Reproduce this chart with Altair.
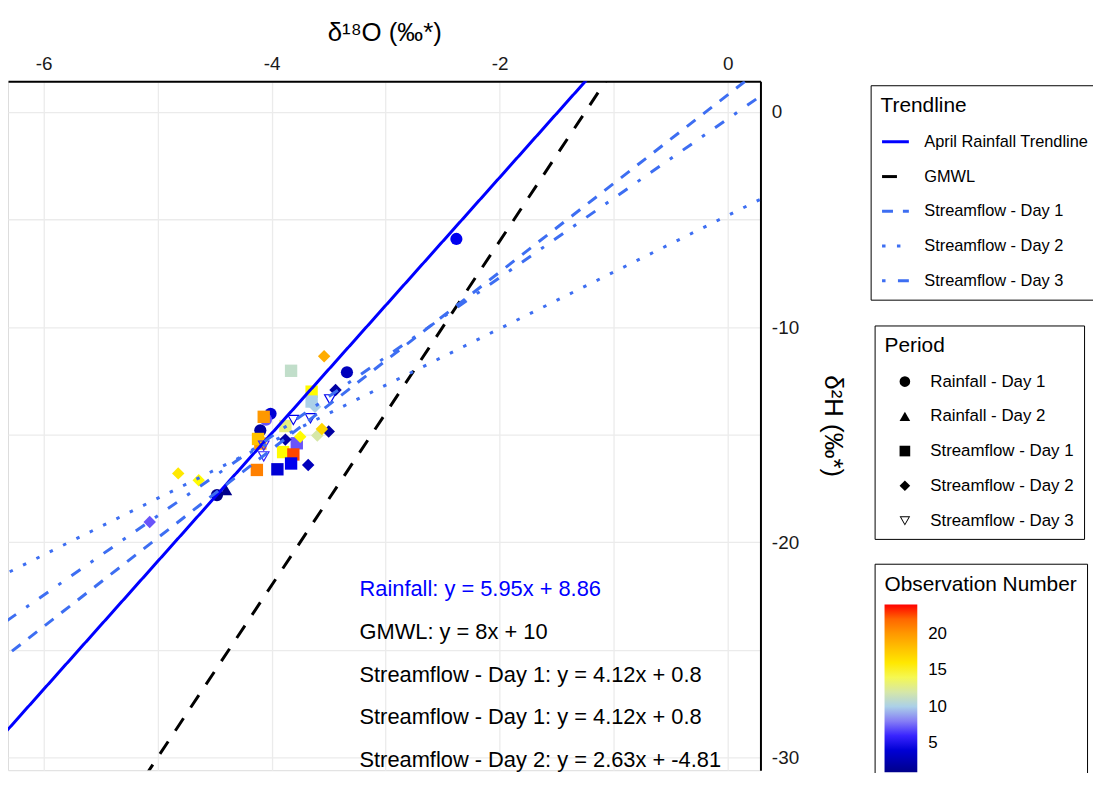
import altair as alt
import pandas as pd

# ---------------- data ----------------
trend_names = ["April Rainfall Trendline", "GMWL", "Streamflow - Day 1",
               "Streamflow - Day 2", "Streamflow - Day 3"]
trend_slopes = [5.95, 8.0, 4.12, 2.63, 3.69]
trend_intercepts = [8.86, 10.0, 0.8, -4.81, -0.32]
trend_colors = ["#0000FF", "#000000", "#3D6EF2", "#3D6EF2", "#3D6EF2"]
trend_dashes = [[1, 0], [15, 13], [11, 10], [3.5, 11.5], [3.5, 12.5, 11, 12.5]]
x_ends = [-7.0, 1.0]

periods = ["Rainfall - Day 1", "Rainfall - Day 2", "Streamflow - Day 1",
           "Streamflow - Day 2", "Streamflow - Day 3"]
open_tri = "M-1,-0.8L1,-0.8L0,0.95Z M-0.69,-0.62L0,0.587L0.69,-0.62Z"
period_shapes = ["circle", "triangle-up", "square", "diamond", open_tri]
period_sizes = [150, 160, 140, 120, 260]

obs_x = [-2.38, -3.34, -4.01, -4.05, -4.10, -4.48,
         -4.40,
         -3.83, -3.65, -3.65, -4.07, -4.10, -3.78, -3.90, -3.81, -3.83, -3.95, -4.13, -3.88, -4.12,
         -3.54, -3.44, -3.88, -3.75, -3.60, -3.50, -3.56, -3.68, -4.82, -4.64, -5.07, -3.62,
         -3.49, -3.66, -3.81, -4.07, -4.07]
obs_y = [-5.90, -12.10, -14.03, -14.30, -14.80, -17.81,
         -17.57,
         -12.03, -13.00, -13.46, -14.17, -15.41, -15.40, -15.81, -15.92, -16.34, -16.61, -16.64, -14.60, -15.20,
         -11.35, -12.92, -15.23, -15.10, -15.04, -14.85, -14.74, -16.41, -16.80, -17.12, -19.06, -13.70,
         -13.35, -14.23, -14.31, -15.50, -16.00]
obs_period = (["Rainfall - Day 1"] * 6 + ["Rainfall - Day 2"] * 1 +
              ["Streamflow - Day 1"] * 13 + ["Streamflow - Day 2"] * 12 +
              ["Streamflow - Day 3"] * 5)
obs_number = [5, 3, 4, 7, 2, 1,
              1,
              11, 15, 10, 20, 20, 7, 15, 23, 5, 4, 21, 13, 18,
              19, 2, 2, 15, 12, 2, 17, 3, 16, 15, 7, 10,
              5, 5, 5, 6, 6]

eq_text = ["Rainfall: y = 5.95x + 8.86", "GMWL: y = 8x + 10",
           "Streamflow - Day 1: y = 4.12x + 0.8", "Streamflow - Day 1: y = 4.12x + 0.8",
           "Streamflow - Day 2: y = 2.63x + -4.81"]
eq_y = [-22.2, -24.18, -26.17, -28.15, -30.14]
eq_x = -3.23

color_stops = [1, 5.6, 10.2, 14.8, 19.4, 24]
color_range = ["#00008B", "#0000FF", "#ADD8E6", "#FFFF00", "#FFA500", "#FF0000"]

# ---------------- frames ----------------
line_rows = []
for n, m, b in zip(trend_names, trend_slopes, trend_intercepts):
    for xe in x_ends:
        line_rows.append({"Trendline": n, "x": xe, "m": m, "b": b})
lines_df = pd.DataFrame(line_rows)

pts_df = pd.DataFrame({"x": obs_x, "y": obs_y, "Period": obs_period,
                       "PeriodSz": obs_period, "Obs": obs_number})
eq_df = pd.DataFrame({"label": eq_text, "y": eq_y, "x": [eq_x] * len(eq_text),
                      "blue": [True, False, False, False, False]})

FONT = "Liberation Sans"

x_enc = alt.X("x:Q", scale=alt.Scale(domain=[-6.313, 0.287], nice=False, zero=False),
              axis=alt.Axis(orient="top", title="δ¹⁸O (‰*)",
                            values=[-6, -5, -4, -3, -2, -1, 0],
                            labelExpr="datum.value % 2 == 0 ? '' + datum.value : ''",
                            ticks=False, domainColor="black", domainWidth=2,
                            gridColor="#EBEBEB", gridWidth=1.3, labelFlush=False,
                            labelFontSize=19, titleFontSize=26, labelPadding=8,
                            titlePadding=9, labelColor="#1a1a1a", titleColor="black",
                            titleFontWeight="normal", labelFont=FONT, titleFont=FONT))
y_enc = alt.Y("y:Q", scale=alt.Scale(domain=[-30.6, 1.43], nice=False, zero=False),
              axis=alt.Axis(orient="right", title="δ²H (‰*)",
                            values=[-30, -25, -20, -15, -10, -5, 0],
                            labelExpr="datum.value % 10 == 0 ? '' + datum.value : ''",
                            ticks=False, domainColor="black", domainWidth=2,
                            gridColor="#EBEBEB", gridWidth=1.3, labelFlush=False,
                            labelFontSize=19, titleFontSize=26, labelPadding=11,
                            titlePadding=21, labelColor="#1a1a1a", titleColor="black",
                            titleFontWeight="normal", labelFont=FONT, titleFont=FONT))

leg_common = dict(orient="none", strokeColor="black", padding=10, cornerRadius=0,
                  titleFontSize=21, titleFontWeight="normal", titleFont=FONT, titleColor="black",
                  titleLimit=400, labelLimit=400, labelFont=FONT, labelColor="black")

trend_legend = alt.Legend(title="Trendline", legendX=869, legendY=4, symbolType="stroke",
                          symbolSize=729, symbolStrokeWidth=3, rowPadding=11, titlePadding=11,
                          labelOffset=14, labelFontSize=16.5, **leg_common)

points = alt.Chart(pts_df).mark_point(filled=True, opacity=1, strokeWidth=0).encode(
    x=x_enc, y=y_enc,
    color=alt.Color("Obs:Q", scale=alt.Scale(domain=color_stops, range=color_range, interpolate="lab"),
                    legend=alt.Legend(title="Observation Number", legendX=873, legendY=486,
                                      values=[5, 10, 15, 20], gradientLength=169,
                                      gradientThickness=33, labelOffset=11, titlePadding=10,
                                      labelFontSize=17, direction="vertical", **leg_common)),
    shape=alt.Shape("Period:N", scale=alt.Scale(domain=periods, range=period_shapes), legend=None),
    size=alt.Size("PeriodSz:N", scale=alt.Scale(domain=periods, range=period_sizes), legend=None),
)

# legend-only layer (invisible marks) for the Period legend
period_legend_layer = alt.Chart(pts_df).mark_point(filled=True, opacity=0, color="black").encode(
    x=x_enc, y=y_enc,
    shape=alt.Shape("Period:N", scale=alt.Scale(domain=periods, range=period_shapes),
                    legend=alt.Legend(title="Period", legendX=873, legendY=246, symbolSize=115,
                                      symbolOpacity=1, symbolFillColor="black",
                                      symbolOffset=12, rowPadding=17, titlePadding=17,
                                      labelOffset=17, labelFontSize=17, **leg_common)),
)

lines = alt.Chart(lines_df).transform_calculate(
    y="datum.m * datum.x + datum.b"
).mark_line(clip=True, strokeWidth=3, strokeCap="butt").encode(
    x=x_enc, y=y_enc,
    color=alt.Color("Trendline:N", scale=alt.Scale(domain=trend_names, range=trend_colors),
                    legend=trend_legend),
    strokeDash=alt.StrokeDash("Trendline:N", scale=alt.Scale(domain=trend_names, range=trend_dashes),
                              legend=trend_legend),
    detail="Trendline:N",
)

eq_blue = alt.Chart(eq_df).transform_filter("datum.blue").mark_text(
    align="left", baseline="middle", fontSize=22, font=FONT, color="#0000FF"
).encode(x=x_enc, y=y_enc, text="label:N")
eq_black = alt.Chart(eq_df).transform_filter("!datum.blue").mark_text(
    align="left", baseline="middle", fontSize=22, font=FONT, color="black"
).encode(x=x_enc, y=y_enc, text="label:N")

chart = alt.layer(points, period_legend_layer, lines, eq_blue, eq_black).resolve_scale(
    color="independent", strokeDash="independent", shape="independent", size="independent"
).resolve_legend(
    color="independent", strokeDash="independent", shape="independent"
).properties(
    width=758, height=694,
    padding={"left": 0, "top": 71, "right": 335, "bottom": 0},
    autosize=alt.AutoSizeParams(type="none"),
).configure_view(stroke=None).configure(font=FONT)

chart.save("out.html", embed_options={"renderer": "svg", "actions": False})
